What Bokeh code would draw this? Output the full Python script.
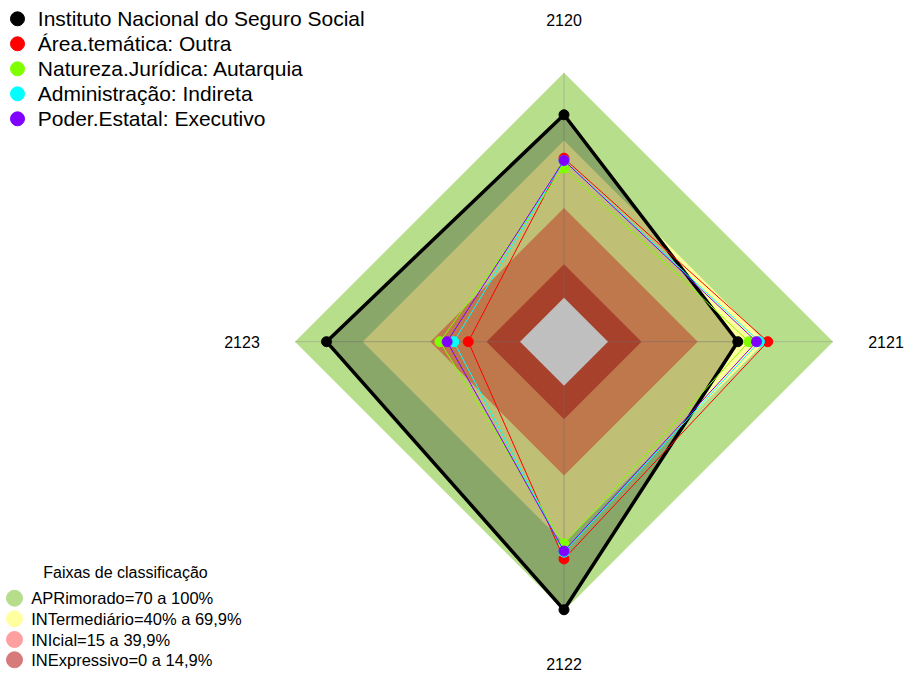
import math
from bokeh.plotting import figure
from bokeh.models import Range1d
from bokeh.embed import file_html
from bokeh.resources import INLINE
from bokeh.core.properties import value

# ---------------- data ----------------
axis_labels = ["2120", "2121", "2122", "2123"]

series_names = [
    "Instituto Nacional do Seguro Social",
    "Área.temática: Outra",
    "Natureza.Jurídica: Autarquia",
    "Administração: Indireta",
    "Poder.Estatal: Executivo",
]
inss = [81.3, 57.7, 99.6, 86.0]
area_outra = [62.0, 71.0, 77.0, 23.0]
natureza_autarquia = [57.7, 62.6, 70.3, 35.6]
adm_indireta = [61.0, 67.3, 74.0, 29.4]
poder_executivo = [61.0, 66.0, 73.5, 32.4]
series_colors = ["#000000", "#ff0000", "#80ff00", "#00ffff", "#8000ff"]

band_title = "Faixas de classificação"
band_names = [
    "APRimorado=70 a 100%",
    "INTermediário=40% a 69,9%",
    "INIcial=15 a 39,9%",
    "INExpressivo=0 a 14,9%",
]
band_upper = [100.0, 69.9, 39.9, 14.9]
band_fill = ["#b7df8b", "#ffff9e", "#ffa065", "#e0573b"]
band_legend = ["#b5dd8a", "#ffffa0", "#ffa0a0", "#d77a7a"]

# ---------------- geometry ----------------
W, H = 905, 675
CX, CY = 563.5, 341.2
R0, R1 = 44.0, 269.0
FONT = value("Liberation Sans")


def radar_xy(vals):
    xs, ys = [], []
    n = len(vals)
    for i, v in enumerate(vals):
        a = 2 * math.pi * i / n
        r = R0 + v / 100.0 * (R1 - R0)
        xs.append(CX + r * math.sin(a))
        ys.append(CY - r * math.cos(a))
    return xs, ys


def ring_xy(r, n=4):
    xs, ys = [], []
    for i in range(n):
        a = 2 * math.pi * i / n
        xs.append(CX + r * math.sin(a))
        ys.append(CY - r * math.cos(a))
    return xs, ys


p = figure(width=W, height=H, output_backend="svg", toolbar_location=None,
           x_axis_type=None, y_axis_type=None, min_border=0,
           x_range=Range1d(0, W), y_range=Range1d(H, 0))
p.grid.visible = False
p.outline_line_color = None
p.background_fill_color = "white"

# bands
for up, col in zip(band_upper, band_fill):
    xs, ys = radar_xy([up] * 4)
    p.patch(xs, ys, fill_color=col, line_color=None)
hx, hy = ring_xy(R0)
p.patch(hx, hy, fill_color="white", line_color=None)

# axis lines
ix, iy = ring_xy(R0)
ox, oy = ring_xy(R1)
p.segment(x0=ix, y0=iy, x1=ox, y1=oy, line_color="#909090", line_alpha=0.45, line_width=1)

# axis labels
lx, ly = ring_xy(R1 + 53)
p.text(x=lx, y=ly, text=axis_labels, text_font=FONT, text_font_size="16px",
       text_align="center", text_baseline="middle", text_color="black")

# series
all_series = [inss, area_outra, natureza_autarquia, adm_indireta, poder_executivo]
for k, (vals, col) in enumerate(zip(all_series, series_colors)):
    xs, ys = radar_xy(vals)
    if k == 0:
        p.patch(xs + [xs[0]], ys + [ys[0]], fill_color="black", fill_alpha=0.25,
                line_color="black", line_width=3.5)
    else:
        p.patch(xs + [xs[0]], ys + [ys[0]], fill_color=None, fill_alpha=0,
                line_color=col, line_width=1)
    p.scatter(xs, ys, size=10, fill_color=col, line_color=col)

# top legend
ty = [18.3 + 25 * i for i in range(len(series_names))]
p.scatter([17] * len(series_names), ty, size=14, fill_color=series_colors, line_color=series_colors)
p.text(x=[37.3] * len(series_names), y=ty, text=series_names, text_font=FONT,
       text_font_size="21px", text_align="left", text_baseline="middle", text_color="black")

# bottom legend
p.text(x=[125], y=[571.7], text=[band_title], text_font=FONT, text_font_size="16px",
       text_align="center", text_baseline="middle", text_color="black")
by = [597.7, 618.3, 639.0, 659.3]
p.scatter([14] * 4, by, size=16, fill_color=band_legend, line_color=band_legend)
p.text(x=[30.7] * 4, y=by, text=band_names, text_font=FONT, text_font_size="16.5px",
       text_align="left", text_baseline="middle", text_color="black")

open("out.html", "w").write(file_html(p, INLINE))
